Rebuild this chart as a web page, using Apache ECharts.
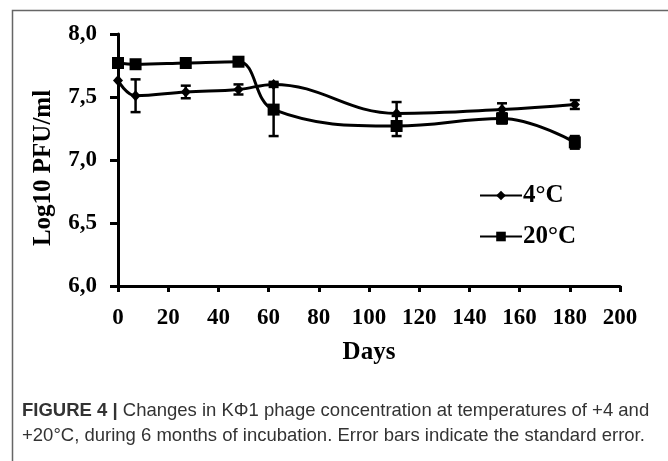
<!DOCTYPE html>
<html>
<head>
<meta charset="utf-8">
<script src="https://cdn.jsdelivr.net/npm/echarts@6/dist/echarts.min.js"></script>
<style>
  html, body { margin: 0; padding: 0; background: #fff; }
  #chart { width: 668px; height: 461px; }
</style>
</head>
<body>
<div id="chart"></div>
<script>
// days of incubation
const days = [0, 7, 27, 48, 62, 111, 153, 182]
// Log10 PFU/ml at 4°C and standard errors
const t4 = [7.63, 7.51, 7.54, 7.56, 7.60, 7.37, 7.40, 7.44]
const t4err = [0, 0.13, 0.05, 0.04, 0.02, 0.09, 0.05, 0.035]
// Log10 PFU/ml at 20°C and standard errors
const t20 = [7.77, 7.76, 7.77, 7.78, 7.40, 7.27, 7.33, 7.14]
const t20err = [0, 0, 0, 0, 0.21, 0.08, 0.04, 0.05]
const yTicks = [6.0, 6.5, 7.0, 7.5, 8.0]
const xTicks = [0, 20, 40, 60, 80, 100, 120, 140, 160, 180, 200]

const serif = 'Liberation Serif'

function pairs (vals) {
  return days.map((d, i) => [d, vals[i]])
}
function errData (vals, errs) {
  let out = []
  days.forEach((d, i) => {
    if (errs[i] > 0) out.push([d, vals[i] - errs[i], vals[i] + errs[i]])
  })
  return out
}
function errRender (params, api) {
  const x = api.value(0)
  const lo = api.coord([x, api.value(1)])
  const hi = api.coord([x, api.value(2)])
  const w = 5
  const st = { stroke: '#000', lineWidth: 2.5 }
  return {
    type: 'group',
    children: [
      { type: 'line', shape: { x1: lo[0], y1: lo[1], x2: hi[0], y2: hi[1] }, style: st },
      { type: 'line', shape: { x1: lo[0] - w, y1: lo[1], x2: lo[0] + w, y2: lo[1] }, style: st },
      { type: 'line', shape: { x1: hi[0] - w, y1: hi[1], x2: hi[0] + w, y2: hi[1] }, style: st }
    ]
  }
}

let myChart = echarts.init(document.getElementById('chart'))
let option = {
  backgroundColor: '#fff',
  animation: false,
  grid: { left: 118, top: 34, right: 48, bottom: 175 },
  xAxis: {
    type: 'value',
    min: 0,
    max: 200,
    interval: 20,
    name: 'Days',
    nameLocation: 'middle',
    nameGap: 54,
    nameTextStyle: { fontFamily: serif, fontWeight: 'bold', fontSize: 25, color: '#000' },
    axisLine: { show: true, lineStyle: { color: '#000', width: 3 } },
    axisTick: { show: true, length: 6, lineStyle: { color: '#000', width: 3 } },
    splitLine: { show: false },
    axisLabel: {
      margin: 21,
      fontFamily: serif, fontWeight: 'bold', fontSize: 23, color: '#000',
      formatter: v => xTicks.includes(v) ? String(v) : ''
    }
  },
  yAxis: {
    type: 'value',
    min: 6,
    max: 8,
    interval: 0.5,
    name: 'Log10 PFU/ml',
    nameLocation: 'middle',
    nameGap: 62,
    nameTextStyle: { fontFamily: serif, fontWeight: 'bold', fontSize: 25, color: '#000', padding: [0, 16, 0, 0] },
    axisLine: { show: true, lineStyle: { color: '#000', width: 3 } },
    axisTick: { show: true, length: 8, lineStyle: { color: '#000', width: 3 } },
    splitLine: { show: false },
    axisLabel: {
      margin: 21,
      fontFamily: serif, fontWeight: 'bold', fontSize: 23, color: '#000',
      formatter: v => yTicks.find(t => Math.abs(t - v) < 1e-6).toFixed(1).replace('.', ',')
    }
  },
  legend: {
    orient: 'vertical',
    left: 474,
    top: 178,
    itemGap: 16,
    itemWidth: 42,
    itemHeight: 12,
    textStyle: { fontFamily: serif, fontWeight: 'bold', fontSize: 25, color: '#000', padding: [0, 0, 0, -4] },
    data: ['4°C', '20°C']
  },
  series: [
    {
      name: '4°C',
      type: 'line',
      smooth: 0.4,
      data: pairs(t4),
      symbol: 'diamond',
      symbolSize: [10, 11],
      itemStyle: { color: '#000' },
      lineStyle: { color: '#000', width: 3 }
    },
    {
      name: '20°C',
      type: 'line',
      smooth: 0.4,
      data: pairs(t20),
      symbol: 'rect',
      symbolSize: 12,
      itemStyle: { color: '#000' },
      lineStyle: { color: '#000', width: 3 }
    },
    {
      type: 'custom',
      renderItem: errRender,
      encode: { x: 0, y: [1, 2] },
      data: errData(t4, t4err),
      z: 3
    },
    {
      type: 'custom',
      renderItem: errRender,
      encode: { x: 0, y: [1, 2] },
      data: errData(t20, t20err),
      z: 3
    }
  ],
  graphic: [
    {
      type: 'rect',
      left: 10,
      top: 8,
      shape: { width: 700, height: 500 },
      style: { fill: 'none', stroke: '#666', lineWidth: 1.5 },
      silent: true
    },
    {
      type: 'text',
      left: 22,
      top: 398,
      style: {
        text: '{b|FIGURE 4 |} Changes in KΦ1 phage concentration at temperatures of +4 and\n+20°C, during 6 months of incubation. Error bars indicate the standard error.',
        font: '18.5px "Liberation Sans"',
        fill: '#333',
        lineHeight: 25,
        rich: {
          b: { fontFamily: 'Liberation Sans', fontWeight: 'bold', fontSize: 18.5, fill: '#333' }
        }
      }
    }
  ]
}
option && myChart.setOption(option)
</script>
</body>
</html>
